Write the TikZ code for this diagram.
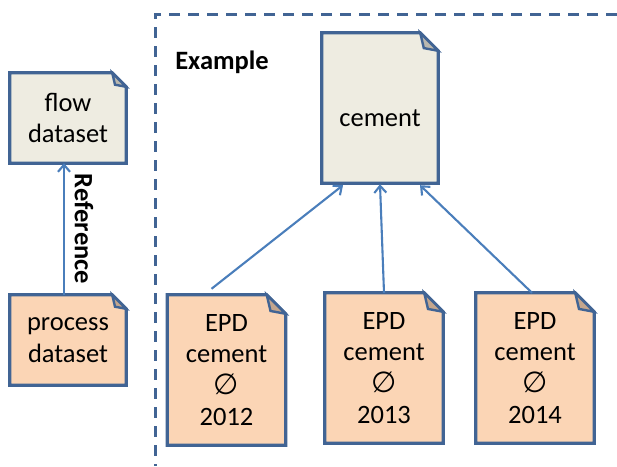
\documentclass[tikz,border=0pt]{standalone}
\usepackage{fontspec}
\setmainfont{Carlito}
\newfontfamily\symfont{DejaVu Sans}
\usetikzlibrary{arrows.meta,calc}
\definecolor{docblue}{RGB}{65,100,148}
\definecolor{arrblue}{RGB}{74,126,187}
\definecolor{beige}{RGB}{238,236,225}
\definecolor{salmon}{RGB}{251,213,181}
\tikzset{
  doc/.style={minimum width=116pt, minimum height=90pt, inner sep=0pt, align=center,
    font=\fontsize{26.5}{31.5}\selectfont},
  tall/.style={minimum height=150pt},
  docline/.style={draw=docblue, line width=3.2pt, line join=miter},
  conn/.style={draw=arrblue, line width=2.1pt, -{Straight Barb[length=7pt,width=12pt,line width=2.1pt]}},
  dashframe/.style={draw=docblue, line width=3pt, dash pattern=on 11pt off 8pt},
}
\newcommand\dogear[3]{%
  \fill[#3] (#1.south west) -- (#1.north west) -- ([xshift=-#2]#1.north east)
    -- ([yshift=-#2]#1.north east) -- (#1.south east) -- cycle;
  \draw[docline] (#1.south west) -- (#1.north west) -- ([xshift=-#2]#1.north east)
    -- ([yshift=-#2]#1.north east) -- (#1.south east) -- cycle;
  \draw[docline, line width=2.4pt, fill=#3!78!black] ([xshift=-#2]#1.north east)
    -- ([xshift=-0.8*#2, yshift=-0.85*#2]#1.north east)
    -- ([yshift=-#2]#1.north east) -- cycle;
}
\begin{document}
\begin{tikzpicture}[x=1pt,y=-1pt]
\useasboundingbox (0,0) rectangle (617,466);
% dashed frame
\draw[dashframe] (617,14) -- (155,14) -- (155,466);
\node[font=\fontsize{26.5}{31.5}\selectfont\bfseries] (ex) at (222,62) {Example};
% nodes
\node[doc] (flow) at (68,118) {};
\node[doc] (process) at (68,340) {};
\node[doc,tall] (cement) at (380,108) {};
\node[doc,tall,minimum width=118pt] (e2012) at (226.5,370) {};
\node[doc,tall,minimum width=118pt] (e2013) at (384,368) {};
\node[doc,tall,minimum width=118pt] (e2014) at (535,368) {};
\dogear{flow}{14pt}{beige}
\dogear{process}{14pt}{salmon}
\dogear{cement}{18pt}{beige}
\dogear{e2012}{19pt}{salmon}
\dogear{e2013}{19pt}{salmon}
\dogear{e2014}{19pt}{salmon}
\node[doc] at (flow) {flow\\dataset};
\node[doc] at (process) {process\\dataset};
\node[doc, yshift=-10pt] at (cement) {cement};
\node[doc] at (e2012) {EPD\\cement\\{\symfont\fontsize{29}{31.5}\selectfont ∅}\\2012};
\node[doc] at (e2013) {EPD\\cement\\{\symfont\fontsize{29}{31.5}\selectfont ∅}\\2013};
\node[doc] at (e2014) {EPD\\cement\\{\symfont\fontsize{29}{31.5}\selectfont ∅}\\2014};
% connectors
\draw[conn] ([xshift=-4pt]process.north) -- node[pos=0.5, xshift=20pt, rotate=-90, font=\fontsize{26.5}{31.5}\selectfont\bfseries] {Reference} ([xshift=-4pt]flow.south);
\draw[conn] ([xshift=-15pt,yshift=6pt]e2012.north) -- ([xshift=-37pt,yshift=-2pt]cement.south);
\draw[conn] (e2013.north) -- ([yshift=-1pt]cement.south);
\draw[conn] ([xshift=-3pt]e2014.north) -- ([xshift=40pt,yshift=-2pt]cement.south);
\end{tikzpicture}
\end{document}
